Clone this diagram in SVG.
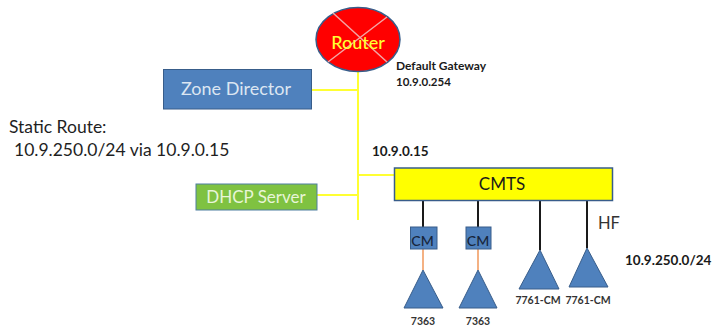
<svg xmlns="http://www.w3.org/2000/svg" width="712" height="327" viewBox="0 0 712 327">
<style>
text{font-family:"Lato","Open Sans","Liberation Sans",sans-serif}
.b{fill:#4f81bd;stroke:#385d8a;stroke-width:1}
.y{stroke:#ffff33;stroke-width:2;fill:none}
.k{stroke:#1a1a1a;stroke-width:2;fill:none}
.o{stroke:#f4b183;stroke-width:2;fill:none}
.m{font-size:10.500px;font-weight:700;fill:#333}
.t{font-size:17.500px;fill:#1f1f1f}
.s{font-weight:700;fill:#1a1a1a}
</style>
<rect width="712" height="327" fill="#fff"/>
<g id="connectors">
<path class="y" d="M358 72V220M311 90H358M358 175H395M310 195H358"/>
<path class="k" d="M423 200V227M478 200V227M540 200V250M587 200V248"/>
<path class="o" d="M423 249V270M478 249V270"/>
</g>
<g id="router">
<ellipse cx="358" cy="39.500" rx="42" ry="32" fill="#ff0000" stroke="#385d8a" stroke-width="1.500"/>
<path d="M328 62L387 17M333 13L387 62" stroke="#f2a6a6" stroke-width="1.500"/>
<text x="358" y="49" text-anchor="middle" font-size="18" font-weight="500" fill="#ffff33">Router</text>
</g>
<g id="zone-director">
<rect class="b" x="163.500" y="69.500" width="148" height="39.500"/>
<text x="236" y="95" text-anchor="middle" font-size="18" fill="#dce6f2">Zone Director</text>
</g>
<g id="dhcp-server">
<rect x="196" y="184" width="121" height="26" fill="#7fc241" stroke="#4f7fa0"/>
<text x="256" y="203" text-anchor="middle" font-size="17" fill="#e8f5d8">DHCP Server</text>
</g>
<g id="cmts">
<rect x="394.500" y="168" width="218" height="32.500" fill="#ffff00" stroke="#385d8a" stroke-width="1.500"/>
<text x="502" y="190" text-anchor="middle" font-size="17" fill="#1a1a1a">CMTS</text>
</g>
<g id="cm-1">
<rect class="b" x="410.500" y="227" width="26.500" height="22"/>
<text x="422.500" y="246" text-anchor="middle" font-size="14" font-weight="500" fill="#17253a">CM</text>
</g>
<g id="cm-2">
<rect class="b" x="466" y="227" width="25" height="22"/>
<text x="478" y="246" text-anchor="middle" font-size="14" font-weight="500" fill="#17253a">CM</text>
</g>
<g id="modem-7363-1">
<polygon class="b" points="423,270 443,308 404,308"/>
<text class="m" x="423" y="325" text-anchor="middle">7363</text>
</g>
<g id="modem-7363-2">
<polygon class="b" points="478,270 497,308 459,308"/>
<text class="m" x="478" y="325" text-anchor="middle">7363</text>
</g>
<g id="modem-7761-1">
<polygon class="b" points="540,250 559,289 519,289"/>
<text class="m" x="538" y="304" text-anchor="middle">7761-CM</text>
</g>
<g id="modem-7761-2">
<polygon class="b" points="587,248 608,287 569,287"/>
<text class="m" x="588" y="304" text-anchor="middle">7761-CM</text>
</g>
<text class="t" x="9" y="132.500">Static Route:</text>
<text class="t" x="14" y="155.500">10.9.250.0/24 via 10.9.0.15</text>
<text class="s" x="396" y="70" font-size="12">Default Gateway</text>
<text class="s" x="396" y="86" font-size="11.500">10.9.0.254</text>
<text class="s" x="372" y="156" font-size="13.500">10.9.0.15</text>
<text x="598" y="229" font-size="16.500" fill="#333">HF</text>
<text class="s" x="625" y="265" font-size="13.500">10.9.250.0/24</text>
</svg>
